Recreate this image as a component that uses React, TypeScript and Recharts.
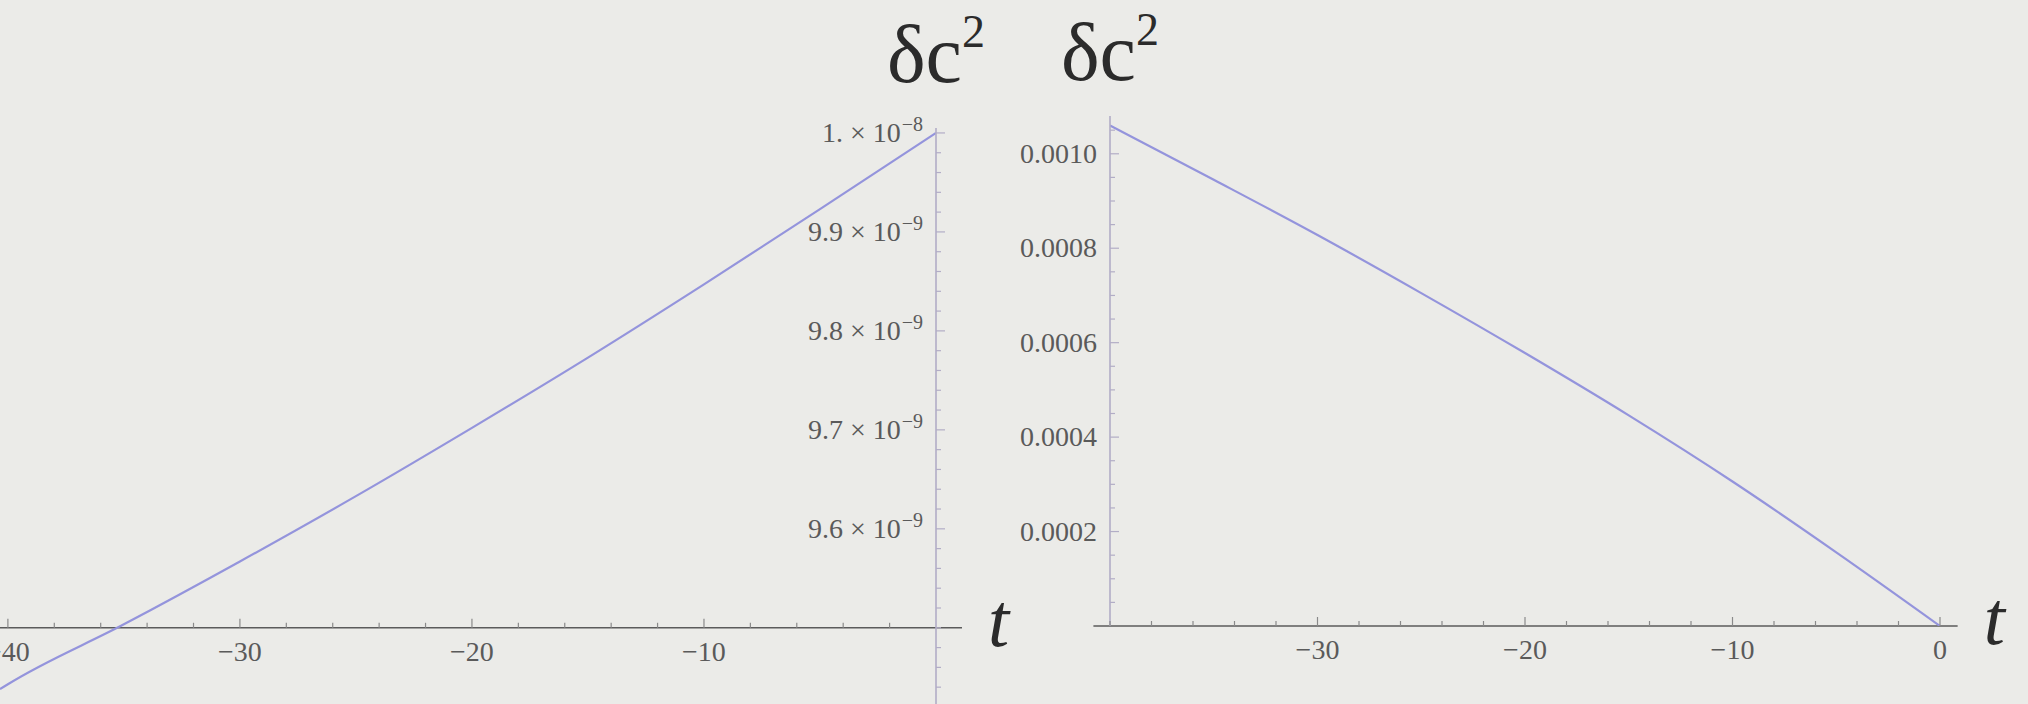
import React from 'react';
import { LineChart, Line, XAxis, YAxis, ReferenceLine, ReferenceDot } from 'recharts';

// δc² over t for two runs. Left panel values are in units of 1e-9.
const LEFT_T = [-40.34, -40, -35, -30, -25, -20, -15, -10, -5, 0];
const LEFT_DC2 = [9.438, 9.443, 9.5035, 9.567, 9.633, 9.702, 9.773, 9.847, 9.923, 10.0];

const RIGHT_T = [-40, -35, -30, -25, -20, -15, -10, -5, 0];
const RIGHT_DC2 = [0.00106, 0.000945, 0.000828, 0.000705, 0.000578, 0.000446, 0.000306, 0.000156, 0];

// where the axes cross on the left panel
const LEFT_ORIGIN_Y = 9.5;

const LEFT_X_MAJOR = [-40, -30, -20, -10];
const LEFT_X_LABELS = ['−40', '−30', '−20', '−10'];
const LEFT_Y_MAJOR = [9.6, 9.7, 9.8, 9.9, 10.0];
const LEFT_Y_LABELS = [['9.6', '−9'], ['9.7', '−9'], ['9.8', '−9'], ['9.9', '−9'], ['1.', '−8']];

const RIGHT_X_MAJOR = [-30, -20, -10, 0];
const RIGHT_X_LABELS = ['−30', '−20', '−10', '0'];
const RIGHT_Y_MAJOR = [0.0002, 0.0004, 0.0006, 0.0008, 0.001];
const RIGHT_Y_LABELS = ['0.0002', '0.0004', '0.0006', '0.0008', '0.0010'];

function steps(from: number, to: number, step: number): number[] {
  const out: number[] = [];
  const n = Math.round((to - from) / step);
  for (let i = 0; i <= n; i++) out.push(+(from + i * step).toPrecision(10));
  return out;
}

const LEFT_X_TICKS = steps(-40, -2, 2);
const LEFT_Y_TICKS = steps(9.44, 10.0, 0.02);
const RIGHT_X_TICKS = steps(-40, 0, 2);
const RIGHT_Y_TICKS = steps(0.00005, 0.00105, 0.00005);

const leftData = LEFT_T.map((t, i) => ({ t, v: LEFT_DC2[i] }));
const rightData = RIGHT_T.map((t, i) => ({ t, v: RIGHT_DC2[i] }));

const FONT = "'Liberation Serif', 'Times New Roman', serif";
const BG = '#ebebe8';
const AXIS_DARK = '#5b5b5b';
const AXIS_LIGHT = '#b2adc6';
const LABEL = '#5a5a5a';
const TITLE = '#2b2b2b';
const CURVE = '#9494dc';
const TICK_FONT = 28;

const findMajor = (majors: number[], v: number) =>
  majors.findIndex((m) => Math.abs(m - v) <= Math.abs(m) * 1e-6);

const XTickMark = ({ x, y, value, majors, labels }: any) => {
  const i = findMajor(majors, value);
  return (
    <g>
      <line x1={x} x2={x} y1={y} y2={y - (i >= 0 ? 9 : 5)} stroke="#8a8a8a" strokeWidth={1.2} />
      {i >= 0 && (
        <text x={x} y={y + 33} textAnchor="middle" fontFamily={FONT} fontSize={TICK_FONT} fill={LABEL}>
          {labels[i]}
        </text>
      )}
    </g>
  );
};

const YTickMark = ({ x, y, payload, majors, render }: any) => {
  const i = findMajor(majors, payload.value);
  return (
    <g>
      <line x1={x} x2={x + (i >= 0 ? 9 : 5)} y1={y} y2={y} stroke={AXIS_LIGHT} strokeWidth={1.2} />
      {i >= 0 && (
        <text x={x - 13} y={y + 9} textAnchor="end" fontFamily={FONT} fontSize={TICK_FONT} fill={LABEL}>
          {render(i)}
        </text>
      )}
    </g>
  );
};

const sciLabel = (i: number) => (
  <>
    {LEFT_Y_LABELS[i][0]} × 10
    <tspan dx={1} dy={-11} fontSize={20}>{LEFT_Y_LABELS[i][1]}</tspan>
  </>
);

const axisTitle = (atX: (vb: any) => number, dy: number) => ({ viewBox }: any) => (
  <text x={atX(viewBox)} y={viewBox.y - dy} textAnchor="middle" fontFamily={FONT} fontSize={82} fill={TITLE}>
    δc
    <tspan dy={-35} fontSize={46}>2</tspan>
  </text>
);

const tTitle = ({ viewBox }: any) => (
  <text
    x={viewBox.x + viewBox.width + 26}
    y={viewBox.y + 18}
    fontFamily={FONT}
    fontStyle="italic"
    fontSize={76}
    fill={TITLE}
  >
    t
  </text>
);

export default function App() {
  return (
    <div style={{ position: 'absolute', left: 0, top: 0, width: 2028, height: 704, background: BG, overflow: 'hidden' }}>
      <div style={{ position: 'absolute', left: 0, top: 0 }}>
        <LineChart width={1040} height={704} data={leftData} margin={{ top: 128, right: 103, bottom: 0, left: 0 }}>
          <XAxis dataKey="t" type="number" domain={[-40.34, 0]} allowDataOverflow hide height={0} />
          <YAxis
            orientation="right"
            width={1}
            type="number"
            domain={[9.423, 10.005]}
            allowDataOverflow
            ticks={LEFT_Y_TICKS}
            interval={0}
            tickSize={0}
            tickMargin={0}
            tickLine={false}
            axisLine={{ stroke: AXIS_LIGHT, strokeWidth: 1.6 }}
            tick={(p: any) => <YTickMark {...p} majors={LEFT_Y_MAJOR} render={sciLabel} />}
            label={{ content: axisTitle((vb) => vb.x, 46) }}
          />
          <ReferenceLine
            segment={[{ x: -40.34, y: LEFT_ORIGIN_Y }, { x: 1.12, y: LEFT_ORIGIN_Y }]}
            stroke={AXIS_DARK}
            strokeWidth={1.6}
            ifOverflow="visible"
            label={{ content: tTitle }}
          />
          {LEFT_X_TICKS.map((t) => (
            <ReferenceDot
              key={t}
              x={t}
              y={LEFT_ORIGIN_Y}
              r={0}
              ifOverflow="visible"
              shape={(p: any) => (
                <XTickMark x={p.cx} y={p.cy} value={t} majors={LEFT_X_MAJOR} labels={LEFT_X_LABELS} />
              )}
            />
          ))}
          <Line type="monotone" dataKey="v" stroke={CURVE} strokeWidth={2.2} dot={false} isAnimationActive={false} />
        </LineChart>
      </div>

      <div style={{ position: 'absolute', left: 1020, top: 0 }}>
        <LineChart width={1008} height={704} data={rightData} margin={{ top: 116, right: 88, bottom: 38, left: 89 }}>
          <XAxis
            dataKey="t"
            type="number"
            domain={[-40, 0]}
            allowDataOverflow
            ticks={RIGHT_X_TICKS}
            interval={0}
            height={40}
            tickSize={0}
            tickMargin={0}
            tickLine={false}
            axisLine={false}
            tick={(p: any) => (
              <XTickMark x={p.x} y={p.y} value={p.payload.value} majors={RIGHT_X_MAJOR} labels={RIGHT_X_LABELS} />
            )}
          />
          <YAxis
            width={1}
            type="number"
            domain={[0, 0.00108]}
            allowDataOverflow
            ticks={RIGHT_Y_TICKS}
            interval={0}
            tickSize={0}
            tickMargin={0}
            tickLine={false}
            axisLine={{ stroke: AXIS_LIGHT, strokeWidth: 1.6 }}
            tick={(p: any) => <YTickMark {...p} majors={RIGHT_Y_MAJOR} render={(i: number) => RIGHT_Y_LABELS[i]} />}
            label={{ content: axisTitle((vb) => vb.x + vb.width, 36) }}
          />
          <ReferenceLine
            segment={[{ x: -40.8, y: 0 }, { x: 0.85, y: 0 }]}
            stroke={AXIS_DARK}
            strokeWidth={1.6}
            ifOverflow="visible"
            label={{ content: tTitle }}
          />
          <Line type="monotone" dataKey="v" stroke={CURVE} strokeWidth={2.2} dot={false} isAnimationActive={false} />
        </LineChart>
      </div>
    </div>
  );
}
